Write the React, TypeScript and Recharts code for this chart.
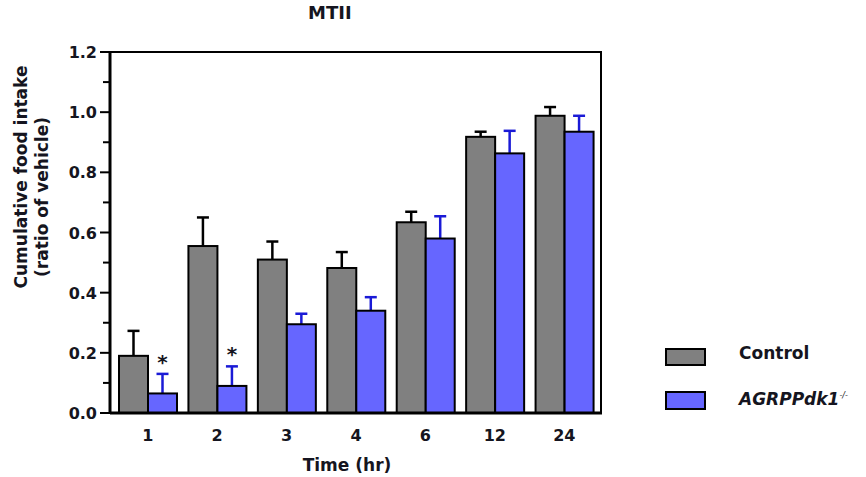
import { BarChart, Bar, XAxis, YAxis, Label } from "recharts";

const hours = ["1", "2", "3", "4", "6", "12", "24"];
const control = [0.19, 0.555, 0.51, 0.482, 0.634, 0.918, 0.988];
const controlErr = [0.083, 0.095, 0.06, 0.053, 0.035, 0.017, 0.029];
const agrp = [0.065, 0.09, 0.295, 0.34, 0.58, 0.863, 0.935];
const agrpErr = [0.065, 0.065, 0.035, 0.045, 0.074, 0.075, 0.053];
const significant = [true, true, false, false, false, false, false];
const yTicks = [0, 0.1, 0.2, 0.3, 0.4, 0.5, 0.6, 0.7, 0.8, 0.9, 1.0, 1.1, 1.2];

const data = hours.map((h, i) => ({
    hour: h,
    control: control[i],
    controlErr: controlErr[i],
    agrp: agrp[i],
    agrpErr: agrpErr[i],
    star: significant[i],
}));

const FONT = "'DejaVu Sans', Arial, sans-serif";
const GRAY = "#808080";
const BLUE = "#6666ff";
const ERR_BLUE = "#1a1ad6";
const INK = "#151520";

const makeShape = (valueKey: string, errKey: string, fill: string, errColor: string) => (props: any) => {
    const { x, y, width, height, payload } = props;
    const value = payload[valueKey];
    const errPx = value > 0 ? (height / value) * payload[errKey] : 0;
    const cx = x + width / 2;
    const top = y - errPx;
    return (
        <g>
            <line x1={cx} x2={cx} y1={y} y2={top} stroke={errColor} strokeWidth={2.5} />
            <line x1={cx - 6} x2={cx + 6} y1={top} y2={top} stroke={errColor} strokeWidth={2.5} />
            <rect x={x} y={y} width={width} height={height} fill={fill} stroke="#000" strokeWidth={2} />
            {payload.star && valueKey === "agrp" ? (
                <text x={cx} y={top - 5} textAnchor="middle" fontFamily={FONT} fontWeight="bold" fontSize={20} fill={INK}>*</text>
            ) : null}
        </g>
    );
};

const YTick = (props: any) => {
    const { y, payload } = props;
    const v = payload.value;
    const major = Math.round(v * 10) % 2 === 0;
    return (
        <g>
            <line x1={110} x2={major ? 100 : 103} y1={y} y2={y} stroke="#000" strokeWidth={2} />
            {major ? (
                <text x={97} y={y} dy={6} textAnchor="end" fontFamily={FONT} fontWeight="bold" fontSize={16} fill={INK}>
                    {v.toFixed(1)}
                </text>
            ) : null}
        </g>
    );
};

const YLabel = () => (
    <g fontFamily={FONT} fontWeight="bold" fontSize={17} fill={INK} textAnchor="middle">
        <text transform="translate(27, 177) rotate(-90)">Cumulative food intake</text>
        <text transform="translate(48, 197) rotate(-90)">(ratio of vehicle)</text>
    </g>
);

export default function App() {
    return (
        <div style={{ position: "absolute", left: 0, top: 0, width: 866, height: 477, background: "#fff", fontFamily: FONT }}>
            <div style={{ position: "absolute", left: 308, top: 2, fontWeight: "bold", fontSize: 18, color: INK }}>MTII</div>
            <BarChart
                width={866}
                height={477}
                data={data}
                margin={{ top: 52, right: 264, bottom: 24, left: 50 }}
                barGap={0}
                barCategoryGap={6}
            >
                <XAxis
                    dataKey="hour"
                    height={40}
                    tickLine={false}
                    padding={{ left: 3, right: 3 }}
                    axisLine={{ stroke: "#000", strokeWidth: 3 }}
                    tick={{ fontFamily: FONT, fontWeight: "bold", fontSize: 16, fill: INK }}
                    tickMargin={11}
                >
                    <Label
                        content={(p: any) => (
                            <text x={347} y={p.viewBox.y + 58} textAnchor="middle" fontFamily={FONT} fontWeight="bold" fontSize={17} fill={INK}>
                                Time (hr)
                            </text>
                        )}
                    />
                </XAxis>
                <YAxis
                    width={60}
                    domain={[0, 1.2]}
                    ticks={yTicks}
                    interval={0}
                    tickLine={false}
                    tick={<YTick />}
                    axisLine={{ stroke: "#000", strokeWidth: 3 }}
                >
                    <Label content={<YLabel />} />
                </YAxis>
                <Bar dataKey="control" fill={GRAY} isAnimationActive={false} shape={makeShape("control", "controlErr", GRAY, "#000")} />
                <Bar dataKey="agrp" fill={BLUE} isAnimationActive={false} shape={makeShape("agrp", "agrpErr", BLUE, ERR_BLUE)} />
            </BarChart>
            <div style={{ position: "absolute", left: 110, top: 51, width: 492, height: 362, borderTop: "2px solid #000", borderRight: "2px solid #000", boxSizing: "border-box", pointerEvents: "none" }} />
            <div style={{ position: "absolute", left: 665, top: 348, width: 41, height: 18, background: GRAY, border: "2.5px solid #000", boxSizing: "border-box" }} />
            <div style={{ position: "absolute", left: 739, top: 343, fontWeight: "bold", fontSize: 17, color: INK }}>Control</div>
            <div style={{ position: "absolute", left: 665, top: 391, width: 41, height: 19, background: BLUE, border: "2.5px solid #000", boxSizing: "border-box" }} />
            <div style={{ position: "absolute", left: 739, top: 389, fontWeight: "bold", fontStyle: "italic", fontSize: 17, color: INK }}>
                AGRPPdk1<sup style={{ fontSize: 8, fontWeight: "normal" }}>-/-</sup>
            </div>
        </div>
    );
}
